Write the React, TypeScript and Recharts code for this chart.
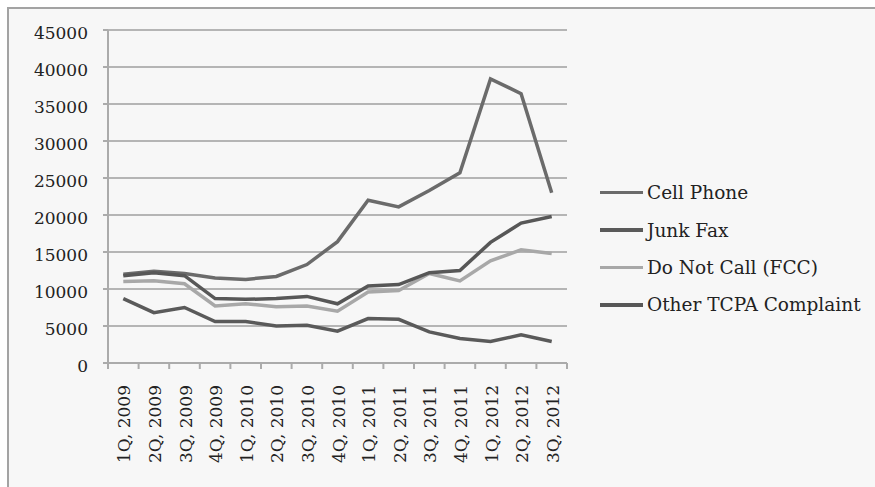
import { CartesianGrid, Line, LineChart, XAxis, YAxis } from "recharts";

const quarters = [
  "1Q, 2009",
  "2Q, 2009",
  "3Q, 2009",
  "4Q, 2009",
  "1Q, 2010",
  "2Q, 2010",
  "3Q, 2010",
  "4Q, 2010",
  "1Q, 2011",
  "2Q, 2011",
  "3Q, 2011",
  "4Q, 2011",
  "1Q, 2012",
  "2Q, 2012",
  "3Q, 2012",
];

const cellPhone = [12000, 12400, 12100, 11500, 11300, 11700, 13300, 16400, 22000, 21100, 23300, 25700, 38400, 36400, 23000];
const junkFax = [8700, 6800, 7500, 5600, 5600, 5000, 5100, 4300, 6000, 5900, 4200, 3300, 2900, 3800, 2900];
const doNotCall = [11000, 11100, 10700, 7700, 8000, 7600, 7700, 7000, 9600, 9800, 12100, 11100, 13800, 15300, 14800];
const otherTcpa = [11800, 12200, 11800, 8700, 8600, 8700, 9000, 8000, 10400, 10600, 12200, 12500, 16300, 18900, 19800];

const yTicks = [0, 5000, 10000, 15000, 20000, 25000, 30000, 35000, 40000, 45000];

const series = [
  { key: "cell", name: "Cell Phone", color: "#6b6b6b" },
  { key: "fax", name: "Junk Fax", color: "#5a5a5a" },
  { key: "dnc", name: "Do Not Call (FCC)", color: "#a8a8a8" },
  { key: "other", name: "Other TCPA Complaint", color: "#575757" },
];

const data = quarters.map((q, i) => ({
  quarter: q,
  cell: cellPhone[i],
  fax: junkFax[i],
  dnc: doNotCall[i],
  other: otherTcpa[i],
}));

const FONT = "'DejaVu Serif', serif";
const AXIS = "#ababab";

// category label rotated upward, with tick marks on the band edges
const QuarterTick = (props: any) => {
  const { x, y, payload, width, visibleTicksCount, index } = props;
  const band = width / visibleTicksCount;
  const left = x - band / 2;
  const right = x + band / 2;
  return (
    <g>
      <line x1={left} x2={left} y1={y} y2={y + 6} stroke={AXIS} strokeWidth={2} />
      {index === visibleTicksCount - 1 && (
        <line x1={right} x2={right} y1={y} y2={y + 6} stroke={AXIS} strokeWidth={2} />
      )}
      <text
        transform={`translate(${x + 1},${y + 22}) rotate(-90)`}
        textAnchor="end"
        dominantBaseline="central"
        fontFamily={FONT}
        fontSize={17}
        fill="#222"
      >
        {payload.value}
      </text>
    </g>
  );
};

const SeriesLegend = () => (
  <div style={{ position: "absolute", left: 600, top: 174, fontFamily: FONT, fontSize: 18.5, color: "#222" }}>
    {series.map((s) => (
      <div key={s.key} style={{ display: "flex", alignItems: "center", height: 37.4, whiteSpace: "nowrap" }}>
        <div style={{ width: 43, height: 3.5, background: s.color, marginRight: 4 }} />
        <span>{s.name}</span>
      </div>
    ))}
  </div>
);

export default function App() {
  return (
    <div style={{ position: "absolute", left: 0, top: 0, width: 875, height: 487, overflow: "hidden", background: "#fff" }}>
      <div
        style={{
          position: "absolute",
          left: 7,
          top: 7,
          width: 900,
          height: 500,
          background: "#f7f7f7",
          borderTop: "2px solid #a3a3a3",
          borderLeft: "2px solid #a3a3a3",
        }}
      />
      <div style={{ position: "absolute", left: 0, top: 0 }}>
        <LineChart width={875} height={487} data={data} margin={{ top: 30, right: 308, bottom: 0, left: 0 }}>
          <CartesianGrid vertical={false} stroke="#b5b5b5" strokeWidth={2} />
          <XAxis
            dataKey="quarter"
            scale="band"
            height={124}
            interval={0}
            tickLine={false}
            tickSize={0}
            tickMargin={0}
            axisLine={{ stroke: AXIS, strokeWidth: 2 }}
            tick={<QuarterTick />}
          />
          <YAxis
            width={108}
            domain={[0, 45000]}
            ticks={yTicks}
            interval={0}
            tickSize={5}
            tickMargin={15}
            axisLine={{ stroke: AXIS, strokeWidth: 2 }}
            tickLine={{ stroke: AXIS, strokeWidth: 2 }}
            tick={{ fill: "#222", fontSize: 17, fontFamily: FONT, dy: 3 }}
          />
          {series.map((s) => (
            <Line
              key={s.key}
              type="linear"
              dataKey={s.key}
              name={s.name}
              stroke={s.color}
              strokeWidth={3.5}
              dot={false}
              activeDot={false}
              isAnimationActive={false}
            />
          ))}
        </LineChart>
      </div>
      <SeriesLegend />
    </div>
  );
}
